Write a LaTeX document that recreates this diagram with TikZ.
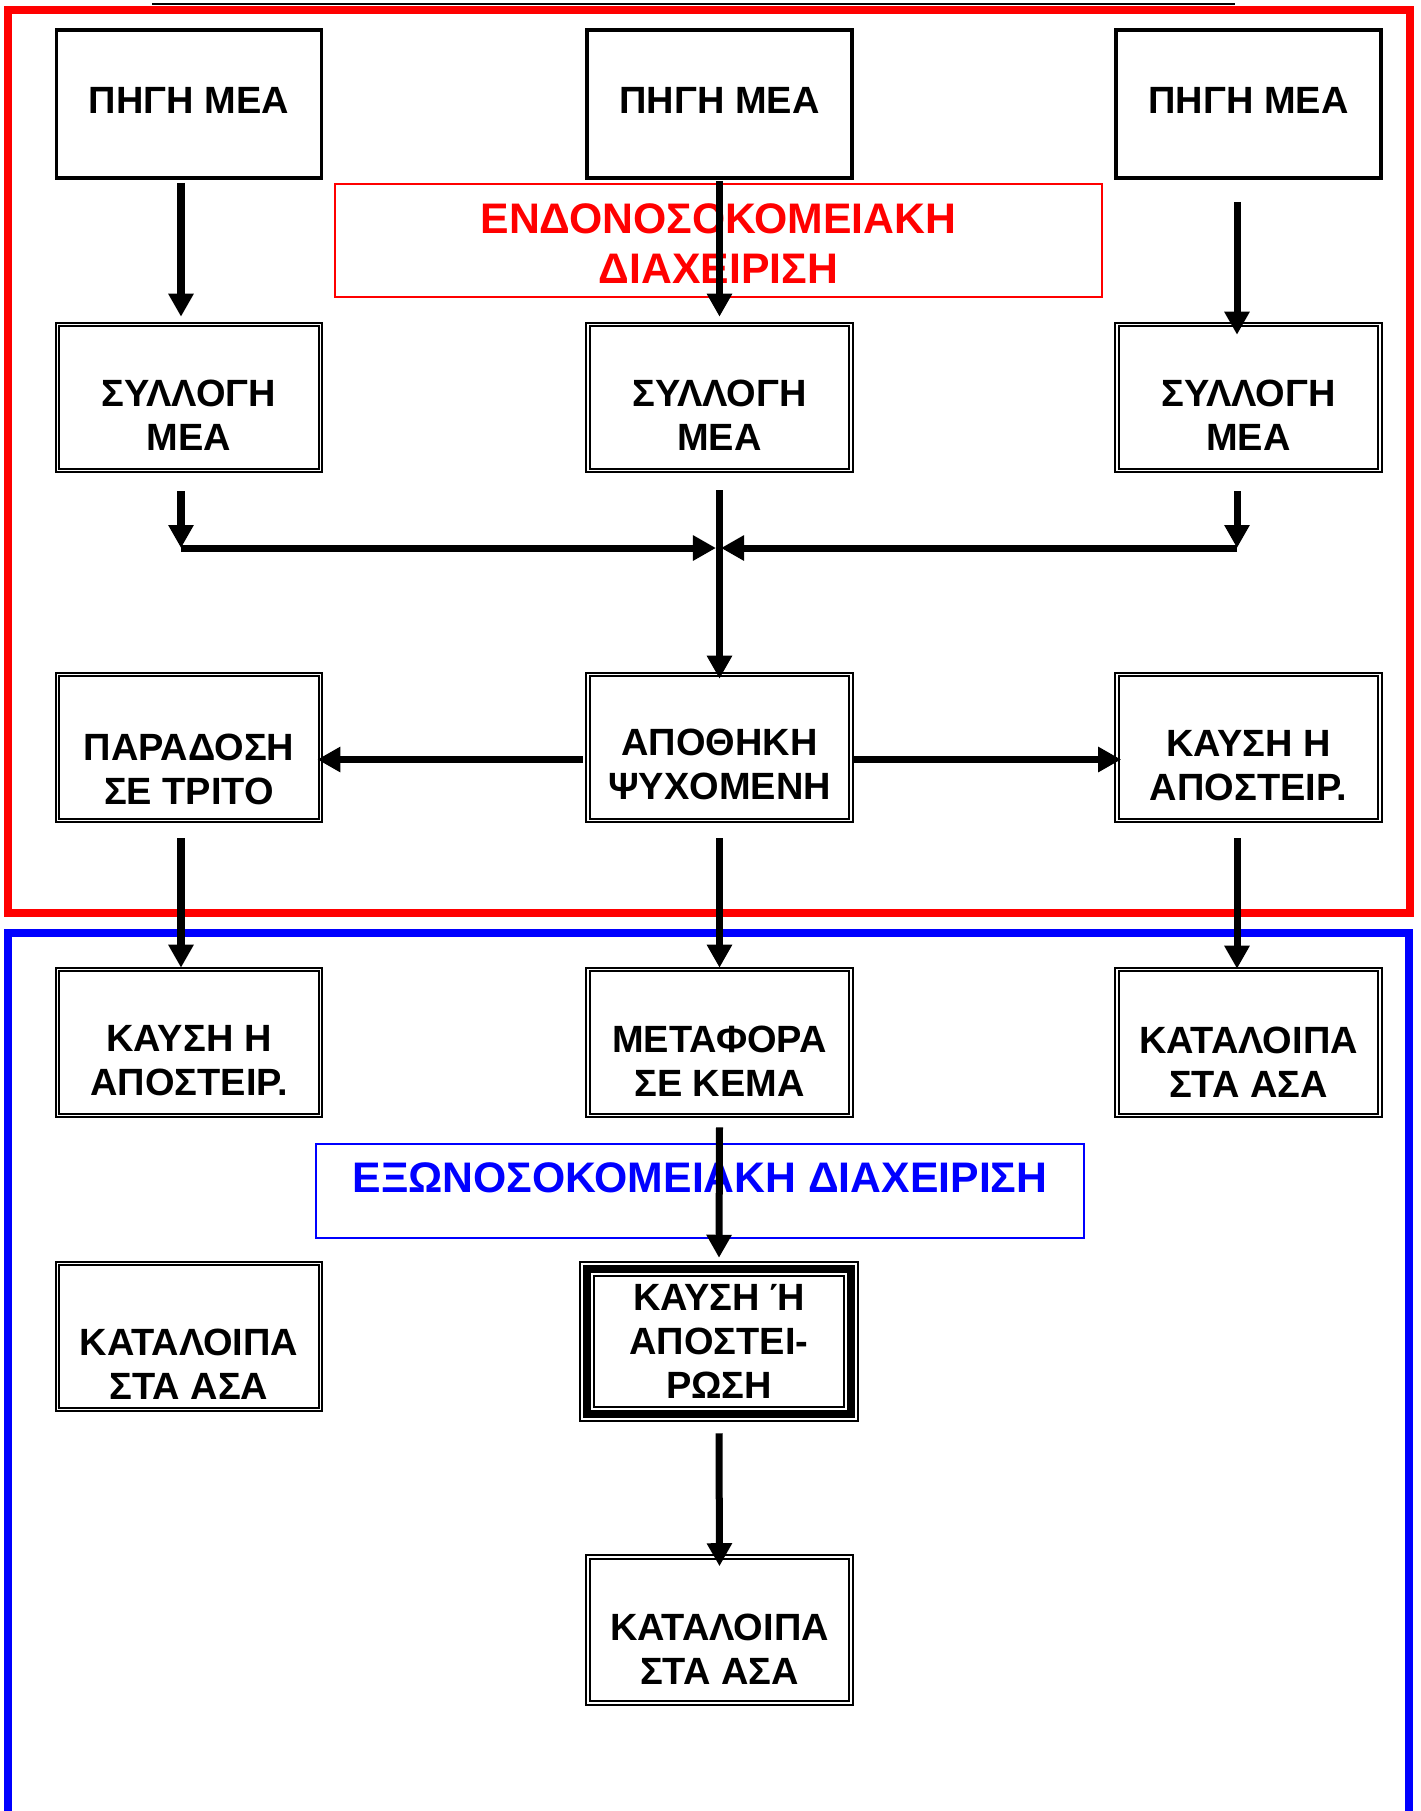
\documentclass[tikz,border=0pt]{standalone}
\usepackage{fontspec}
\setmainfont{Liberation Sans}
\usetikzlibrary{arrows.meta,calc}
\newcommand{\wastebox}[5]{\node[#1] (#2) at (#3) {};
\node[boxtext] (#2t) at ($(#2)+(0,#4)$) {#5};}
\tikzset{
every node/.style={inner sep=0, outer sep=0},
boxtext/.style={font=\fontsize{10.8}{12.5}\selectfont\bfseries, align=center},
titletext/.style={font=\fontsize{12.15}{14.2}\selectfont\bfseries, align=center},
srcbox/.style={draw, line width=0.035cm, minimum width=2.645cm, minimum height=1.475cm},
meabox/.style={draw, line width=0.02cm, double, double distance=0.015cm, minimum width=2.625cm, minimum height=1.455cm},
kbox/.style={draw, line width=0.08cm, minimum width=2.644cm, minimum height=1.454cm,
  preaction={draw, line width=0.018cm, double=white, double distance=0.12cm}},
titlebox/.style={draw, line width=0.02cm},
arr/.style={line width=0.07cm, -{Triangle[width=0.24cm,length=0.23cm]}}
}

\begin{document}
\begin{tikzpicture}[x=0.01cm, y=-0.01cm]
\useasboundingbox (0,0) rectangle (1420,1811);

% frames
\draw[line width=0.02cm] (152,4) -- (1235,4);
\draw[red, line width=0.075cm] (8,10) rectangle (1410,913);
\draw[blue, line width=0.08cm] (8,1830) -- (8,933) -- (1409,933) -- (1409,1830);

\node[titlebox, red, minimum width=7.67cm, minimum height=1.13cm] (intitle) at (718.5,240.5) {};
\node[titletext, red] (intitlet) at ($(intitle)+(0,3)$) {ΕΝΔΟΝΟΣΟΚΟΜΕΙΑΚΗ\\ΔΙΑΧΕΙΡΙΣΗ};
\node[titlebox, blue, minimum width=7.68cm, minimum height=0.94cm] (outtitle) at (700,1191) {};
\node[titletext, blue] (outtitlet) at ($(outtitle)+(0,-13)$) {ΕΞΩΝΟΣΟΚΟΜΕΙΑΚΗ ΔΙΑΧΕΙΡΙΣΗ};

% boxes
\wastebox{srcbox}{p1}{189,104}{-4}{ΠΗΓΗ ΜΕΑ}
\wastebox{srcbox}{p2}{719.5,104}{-4}{ΠΗΓΗ ΜΕΑ}
\wastebox{srcbox}{p3}{1248.5,104}{-4}{ΠΗΓΗ ΜΕΑ}
\wastebox{meabox}{s1}{189,397.5}{18}{ΣΥΛΛΟΓΗ\\ΜΕΑ}
\wastebox{meabox}{s2}{719.5,397.5}{18}{ΣΥΛΛΟΓΗ\\ΜΕΑ}
\wastebox{meabox}{s3}{1248.5,397.5}{18}{ΣΥΛΛΟΓΗ\\ΜΕΑ}
\wastebox{meabox}{t}{189,747.5}{22}{ΠΑΡΑΔΟΣΗ\\ΣΕ ΤΡΙΤΟ}
\wastebox{meabox}{a}{719.5,747.5}{17}{ΑΠΟΘΗΚΗ\\ΨΥΧΟΜΕΝΗ}
\wastebox{meabox}{k}{1248.5,747.5}{18}{ΚΑΥΣΗ Η\\ΑΠΟΣΤΕΙΡ.}
\wastebox{meabox}{k2}{189,1042.5}{18}{ΚΑΥΣΗ Η\\ΑΠΟΣΤΕΙΡ.}
\wastebox{meabox}{m}{719.5,1042.5}{19}{ΜΕΤΑΦΟΡΑ\\ΣΕ ΚΕΜΑ}
\wastebox{meabox}{r1}{1248.5,1042.5}{20}{ΚΑΤΑΛΟΙΠΑ\\ΣΤΑ ΑΣΑ}
\wastebox{meabox}{r2}{189,1336.5}{28}{ΚΑΤΑΛΟΙΠΑ\\ΣΤΑ ΑΣΑ}
\wastebox{kbox}{kk}{719,1341.5}{0}{ΚΑΥΣΗ Ή\\ΑΠΟΣΤΕΙ-\\ΡΩΣΗ}
\wastebox{meabox}{r3}{719.5,1630}{19}{ΚΑΤΑΛΟΙΠΑ\\ΣΤΑ ΑΣΑ}

\coordinate (jl) at (181,548);
\coordinate (jm) at (719,548);
\coordinate (jr) at (1237,548);

% arrows
\draw[arr] ($(p1.south)+(-8,5)$) -- ($(s1.north)+(-8,-8)$);
\draw[arr] ($(p2.south)+(0,3)$) -- ($(s2.north)+(0,-8)$);
\draw[arr] ($(p3.south)+(-11.5,24)$) -- ($(s3.north)+(-11.5,10)$);
\draw[arr] ($(s1.south)+(-8,21)$) -- (jl);
\draw[arr] ($(s3.south)+(-11.5,21)$) -- (jr);
\draw[arr] (jl) -- ($(jm)+(-3,0)$);
\draw[arr] (jr) -- ($(jm)+(2,0)$);
\draw[arr] ($(s2.south)+(0,20)$) -- ($(a.north)+(0,4)$);
\draw[arr] ($(a.west)+(-5,12)$) -- ($(t.east)+(-3,12)$);
\draw[arr] ($(a.east)+(2,12)$) -- ($(k.west)+(4,12)$);
\draw[arr] ($(t.south)+(-8,18)$) -- ($(k2.north)+(-8,-2)$);
\draw[arr] ($(a.south)+(0,18)$) -- ($(m.north)+(0,-2)$);
\draw[arr] ($(k.south)+(-11.5,18)$) -- ($(r1.north)+(-11.5,-1)$);
\draw[arr] ($(m.south)+(0,12)$) -- ($(kk.north)+(0,-11)$);
\draw[arr] ($(kk.south)+(0,19)$) -- ($(r3.north)+(0,9)$);
\end{tikzpicture}
\end{document}
